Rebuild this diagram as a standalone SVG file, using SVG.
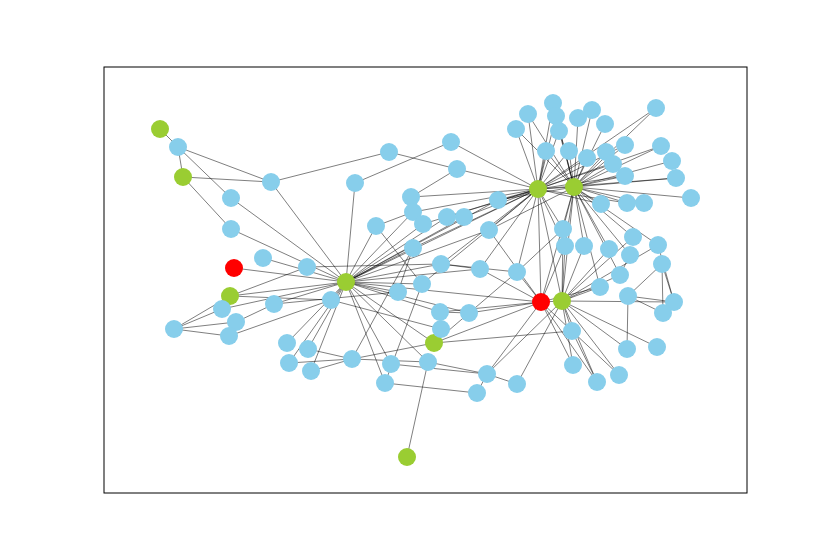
<svg xmlns="http://www.w3.org/2000/svg" width="830" height="554" viewBox="0 0 830 554">
<style>
.e line{stroke:#000;stroke-opacity:0.5;stroke-width:1}
.b{fill:#87CEEB}.g{fill:#9ACD32}.r{fill:#FF0000}
</style>
<rect x="0" y="0" width="830" height="554" fill="#fff"/>
<rect x="104" y="67" width="643" height="426" fill="none" stroke="#000" stroke-width="1"/>
<g id="edges" class="e">
<line x1="160" y1="129" x2="178" y2="147"/>
<line x1="178" y1="147" x2="183" y2="177"/>
<line x1="178" y1="147" x2="271" y2="182"/>
<line x1="178" y1="147" x2="231" y2="198"/>
<line x1="231" y1="198" x2="346" y2="282"/>
<line x1="183" y1="177" x2="271" y2="182"/>
<line x1="183" y1="177" x2="231" y2="229"/>
<line x1="231" y1="229" x2="346" y2="282"/>
<line x1="271" y1="182" x2="389" y2="152"/>
<line x1="271" y1="182" x2="346" y2="282"/>
<line x1="355" y1="183" x2="346" y2="282"/>
<line x1="389" y1="152" x2="457" y2="169"/>
<line x1="451" y1="142" x2="355" y2="183"/>
<line x1="451" y1="142" x2="538" y2="189"/>
<line x1="457" y1="169" x2="538" y2="189"/>
<line x1="457" y1="169" x2="411" y2="197"/>
<line x1="411" y1="197" x2="538" y2="189"/>
<line x1="376" y1="226" x2="346" y2="282"/>
<line x1="376" y1="226" x2="413" y2="212"/>
<line x1="376" y1="226" x2="422" y2="284"/>
<line x1="234" y1="268" x2="346" y2="282"/>
<line x1="263" y1="258" x2="346" y2="282"/>
<line x1="307" y1="267" x2="441" y2="264"/>
<line x1="230" y1="296" x2="307" y2="267"/>
<line x1="230" y1="296" x2="346" y2="282"/>
<line x1="230" y1="296" x2="331" y2="300"/>
<line x1="230" y1="296" x2="174" y2="329"/>
<line x1="174" y1="329" x2="222" y2="309"/>
<line x1="174" y1="329" x2="236" y2="322"/>
<line x1="174" y1="329" x2="229" y2="336"/>
<line x1="222" y1="309" x2="346" y2="282"/>
<line x1="236" y1="322" x2="274" y2="304"/>
<line x1="274" y1="304" x2="346" y2="282"/>
<line x1="229" y1="336" x2="331" y2="300"/>
<line x1="274" y1="304" x2="398" y2="292"/>
<line x1="331" y1="300" x2="346" y2="282"/>
<line x1="287" y1="343" x2="346" y2="282"/>
<line x1="308" y1="349" x2="346" y2="282"/>
<line x1="289" y1="363" x2="346" y2="282"/>
<line x1="311" y1="371" x2="346" y2="282"/>
<line x1="308" y1="349" x2="352" y2="359"/>
<line x1="289" y1="363" x2="352" y2="359"/>
<line x1="311" y1="371" x2="352" y2="359"/>
<line x1="352" y1="359" x2="434" y2="343"/>
<line x1="352" y1="359" x2="413" y2="248"/>
<line x1="352" y1="359" x2="428" y2="362"/>
<line x1="391" y1="364" x2="487" y2="374"/>
<line x1="428" y1="362" x2="487" y2="374"/>
<line x1="385" y1="383" x2="477" y2="393"/>
<line x1="428" y1="362" x2="407" y2="457"/>
<line x1="487" y1="374" x2="477" y2="393"/>
<line x1="517" y1="384" x2="562" y2="301"/>
<line x1="487" y1="374" x2="541" y2="302"/>
<line x1="487" y1="374" x2="562" y2="301"/>
<line x1="434" y1="343" x2="572" y2="331"/>
<line x1="434" y1="343" x2="541" y2="302"/>
<line x1="434" y1="343" x2="441" y2="329"/>
<line x1="346" y1="282" x2="434" y2="343"/>
<line x1="346" y1="282" x2="385" y2="383"/>
<line x1="346" y1="282" x2="391" y2="364"/>
<line x1="346" y1="282" x2="428" y2="362"/>
<line x1="346" y1="282" x2="440" y2="312"/>
<line x1="346" y1="282" x2="469" y2="313"/>
<line x1="346" y1="282" x2="541" y2="302"/>
<line x1="346" y1="282" x2="398" y2="292"/>
<line x1="346" y1="282" x2="422" y2="284"/>
<line x1="346" y1="282" x2="441" y2="264"/>
<line x1="346" y1="282" x2="413" y2="248"/>
<line x1="346" y1="282" x2="413" y2="212"/>
<line x1="346" y1="282" x2="423" y2="224"/>
<line x1="346" y1="282" x2="447" y2="217"/>
<line x1="346" y1="282" x2="464" y2="217"/>
<line x1="346" y1="282" x2="498" y2="200"/>
<line x1="346" y1="282" x2="538" y2="189"/>
<line x1="346" y1="282" x2="489" y2="230"/>
<line x1="346" y1="282" x2="480" y2="269"/>
<line x1="413" y1="248" x2="398" y2="292"/>
<line x1="385" y1="383" x2="422" y2="284"/>
<line x1="440" y1="312" x2="469" y2="313"/>
<line x1="469" y1="313" x2="541" y2="302"/>
<line x1="440" y1="312" x2="541" y2="302"/>
<line x1="480" y1="269" x2="541" y2="302"/>
<line x1="517" y1="272" x2="541" y2="302"/>
<line x1="441" y1="264" x2="517" y2="272"/>
<line x1="441" y1="264" x2="480" y2="269"/>
<line x1="434" y1="343" x2="517" y2="272"/>
<line x1="331" y1="300" x2="441" y2="329"/>
<line x1="517" y1="384" x2="487" y2="374"/>
<line x1="489" y1="230" x2="541" y2="302"/>
<line x1="517" y1="272" x2="563" y2="229"/>
<line x1="538" y1="189" x2="413" y2="212"/>
<line x1="538" y1="189" x2="423" y2="224"/>
<line x1="538" y1="189" x2="447" y2="217"/>
<line x1="538" y1="189" x2="464" y2="217"/>
<line x1="538" y1="189" x2="498" y2="200"/>
<line x1="538" y1="189" x2="489" y2="230"/>
<line x1="538" y1="189" x2="413" y2="248"/>
<line x1="538" y1="189" x2="441" y2="264"/>
<line x1="538" y1="189" x2="516" y2="129"/>
<line x1="538" y1="189" x2="528" y2="114"/>
<line x1="538" y1="189" x2="556" y2="116"/>
<line x1="538" y1="189" x2="559" y2="131"/>
<line x1="538" y1="189" x2="546" y2="151"/>
<line x1="538" y1="189" x2="569" y2="151"/>
<line x1="538" y1="189" x2="574" y2="187"/>
<line x1="538" y1="189" x2="656" y2="108"/>
<line x1="538" y1="189" x2="601" y2="204"/>
<line x1="538" y1="189" x2="563" y2="229"/>
<line x1="538" y1="189" x2="565" y2="246"/>
<line x1="538" y1="189" x2="541" y2="302"/>
<line x1="538" y1="189" x2="562" y2="301"/>
<line x1="538" y1="189" x2="587" y2="158"/>
<line x1="538" y1="189" x2="613" y2="164"/>
<line x1="538" y1="189" x2="625" y2="145"/>
<line x1="538" y1="189" x2="625" y2="176"/>
<line x1="538" y1="189" x2="661" y2="146"/>
<line x1="538" y1="189" x2="676" y2="178"/>
<line x1="538" y1="189" x2="627" y2="203"/>
<line x1="538" y1="189" x2="480" y2="269"/>
<line x1="538" y1="189" x2="422" y2="284"/>
<line x1="538" y1="189" x2="517" y2="272"/>
<line x1="538" y1="189" x2="553" y2="103"/>
<line x1="574" y1="187" x2="553" y2="103"/>
<line x1="574" y1="187" x2="556" y2="116"/>
<line x1="574" y1="187" x2="559" y2="131"/>
<line x1="574" y1="187" x2="578" y2="118"/>
<line x1="574" y1="187" x2="592" y2="110"/>
<line x1="574" y1="187" x2="605" y2="124"/>
<line x1="574" y1="187" x2="546" y2="151"/>
<line x1="574" y1="187" x2="569" y2="151"/>
<line x1="574" y1="187" x2="587" y2="158"/>
<line x1="574" y1="187" x2="606" y2="152"/>
<line x1="574" y1="187" x2="613" y2="164"/>
<line x1="574" y1="187" x2="625" y2="145"/>
<line x1="574" y1="187" x2="625" y2="176"/>
<line x1="574" y1="187" x2="656" y2="108"/>
<line x1="574" y1="187" x2="661" y2="146"/>
<line x1="574" y1="187" x2="672" y2="161"/>
<line x1="574" y1="187" x2="676" y2="178"/>
<line x1="574" y1="187" x2="691" y2="198"/>
<line x1="574" y1="187" x2="601" y2="204"/>
<line x1="574" y1="187" x2="627" y2="203"/>
<line x1="574" y1="187" x2="644" y2="203"/>
<line x1="574" y1="187" x2="563" y2="229"/>
<line x1="574" y1="187" x2="565" y2="246"/>
<line x1="574" y1="187" x2="584" y2="246"/>
<line x1="574" y1="187" x2="609" y2="249"/>
<line x1="574" y1="187" x2="633" y2="237"/>
<line x1="574" y1="187" x2="658" y2="245"/>
<line x1="574" y1="187" x2="630" y2="255"/>
<line x1="574" y1="187" x2="620" y2="275"/>
<line x1="574" y1="187" x2="600" y2="287"/>
<line x1="574" y1="187" x2="562" y2="301"/>
<line x1="574" y1="187" x2="541" y2="302"/>
<line x1="574" y1="187" x2="516" y2="129"/>
<line x1="574" y1="187" x2="528" y2="114"/>
<line x1="574" y1="187" x2="498" y2="200"/>
<line x1="574" y1="187" x2="489" y2="230"/>
<line x1="562" y1="301" x2="563" y2="229"/>
<line x1="562" y1="301" x2="565" y2="246"/>
<line x1="562" y1="301" x2="572" y2="331"/>
<line x1="562" y1="301" x2="573" y2="365"/>
<line x1="562" y1="301" x2="597" y2="382"/>
<line x1="562" y1="301" x2="619" y2="375"/>
<line x1="562" y1="301" x2="627" y2="349"/>
<line x1="562" y1="301" x2="657" y2="347"/>
<line x1="562" y1="301" x2="674" y2="302"/>
<line x1="562" y1="301" x2="600" y2="287"/>
<line x1="562" y1="301" x2="609" y2="249"/>
<line x1="562" y1="301" x2="633" y2="237"/>
<line x1="562" y1="301" x2="658" y2="245"/>
<line x1="562" y1="301" x2="620" y2="275"/>
<line x1="562" y1="301" x2="584" y2="246"/>
<line x1="541" y1="302" x2="573" y2="365"/>
<line x1="541" y1="302" x2="572" y2="331"/>
<line x1="541" y1="302" x2="597" y2="382"/>
<line x1="541" y1="302" x2="565" y2="246"/>
<line x1="541" y1="302" x2="600" y2="287"/>
<line x1="541" y1="302" x2="562" y2="301"/>
<line x1="572" y1="331" x2="619" y2="375"/>
<line x1="572" y1="331" x2="597" y2="382"/>
<line x1="662" y1="264" x2="674" y2="302"/>
<line x1="662" y1="264" x2="663" y2="313"/>
<line x1="628" y1="296" x2="674" y2="302"/>
<line x1="628" y1="296" x2="663" y2="313"/>
<line x1="628" y1="296" x2="627" y2="349"/>
<line x1="628" y1="296" x2="662" y2="264"/>
<line x1="658" y1="245" x2="674" y2="302"/>
<line x1="630" y1="255" x2="620" y2="275"/>
</g>
<g id="nodes">
<g id="G1"><circle class="g" cx="160" cy="129" r="9"/></g>
<g id="G2"><circle class="g" cx="183" cy="177" r="9"/></g>
<g id="G3"><circle class="g" cx="230" cy="296" r="9"/></g>
<g id="G4"><circle class="g" cx="346" cy="282" r="9"/></g>
<g id="G5"><circle class="g" cx="538" cy="189" r="9"/></g>
<g id="G6"><circle class="g" cx="574" cy="187" r="9"/></g>
<g id="G7"><circle class="g" cx="562" cy="301" r="9"/></g>
<g id="G8"><circle class="g" cx="434" cy="343" r="9"/></g>
<g id="G9"><circle class="g" cx="407" cy="457" r="9"/></g>
<g id="R1"><circle class="r" cx="234" cy="268" r="9"/></g>
<g id="R2"><circle class="r" cx="541" cy="302" r="9"/></g>
<g id="B1"><circle class="b" cx="178" cy="147" r="9"/></g>
<g id="B2"><circle class="b" cx="271" cy="182" r="9"/></g>
<g id="B3"><circle class="b" cx="231" cy="198" r="9"/></g>
<g id="B4"><circle class="b" cx="231" cy="229" r="9"/></g>
<g id="B5"><circle class="b" cx="263" cy="258" r="9"/></g>
<g id="B6"><circle class="b" cx="307" cy="267" r="9"/></g>
<g id="B7"><circle class="b" cx="222" cy="309" r="9"/></g>
<g id="B8"><circle class="b" cx="236" cy="322" r="9"/></g>
<g id="B9"><circle class="b" cx="229" cy="336" r="9"/></g>
<g id="B10"><circle class="b" cx="174" cy="329" r="9"/></g>
<g id="B11"><circle class="b" cx="274" cy="304" r="9"/></g>
<g id="B12"><circle class="b" cx="331" cy="300" r="9"/></g>
<g id="B13"><circle class="b" cx="287" cy="343" r="9"/></g>
<g id="B14"><circle class="b" cx="308" cy="349" r="9"/></g>
<g id="B15"><circle class="b" cx="289" cy="363" r="9"/></g>
<g id="B16"><circle class="b" cx="311" cy="371" r="9"/></g>
<g id="B17"><circle class="b" cx="352" cy="359" r="9"/></g>
<g id="B18"><circle class="b" cx="389" cy="152" r="9"/></g>
<g id="B19"><circle class="b" cx="355" cy="183" r="9"/></g>
<g id="B20"><circle class="b" cx="451" cy="142" r="9"/></g>
<g id="B21"><circle class="b" cx="457" cy="169" r="9"/></g>
<g id="B22"><circle class="b" cx="411" cy="197" r="9"/></g>
<g id="B23"><circle class="b" cx="413" cy="212" r="9"/></g>
<g id="B24"><circle class="b" cx="376" cy="226" r="9"/></g>
<g id="B25"><circle class="b" cx="423" cy="224" r="9"/></g>
<g id="B26"><circle class="b" cx="447" cy="217" r="9"/></g>
<g id="B27"><circle class="b" cx="464" cy="217" r="9"/></g>
<g id="B28"><circle class="b" cx="498" cy="200" r="9"/></g>
<g id="B29"><circle class="b" cx="489" cy="230" r="9"/></g>
<g id="B30"><circle class="b" cx="413" cy="248" r="9"/></g>
<g id="B31"><circle class="b" cx="398" cy="292" r="9"/></g>
<g id="B32"><circle class="b" cx="422" cy="284" r="9"/></g>
<g id="B33"><circle class="b" cx="441" cy="264" r="9"/></g>
<g id="B34"><circle class="b" cx="480" cy="269" r="9"/></g>
<g id="B35"><circle class="b" cx="517" cy="272" r="9"/></g>
<g id="B36"><circle class="b" cx="440" cy="312" r="9"/></g>
<g id="B37"><circle class="b" cx="469" cy="313" r="9"/></g>
<g id="B38"><circle class="b" cx="441" cy="329" r="9"/></g>
<g id="B39"><circle class="b" cx="391" cy="364" r="9"/></g>
<g id="B40"><circle class="b" cx="428" cy="362" r="9"/></g>
<g id="B41"><circle class="b" cx="385" cy="383" r="9"/></g>
<g id="B42"><circle class="b" cx="487" cy="374" r="9"/></g>
<g id="B43"><circle class="b" cx="517" cy="384" r="9"/></g>
<g id="B44"><circle class="b" cx="477" cy="393" r="9"/></g>
<g id="B45"><circle class="b" cx="516" cy="129" r="9"/></g>
<g id="B46"><circle class="b" cx="528" cy="114" r="9"/></g>
<g id="B47"><circle class="b" cx="553" cy="103" r="9"/></g>
<g id="B48"><circle class="b" cx="556" cy="116" r="9"/></g>
<g id="B49"><circle class="b" cx="559" cy="131" r="9"/></g>
<g id="B50"><circle class="b" cx="578" cy="118" r="9"/></g>
<g id="B51"><circle class="b" cx="592" cy="110" r="9"/></g>
<g id="B52"><circle class="b" cx="605" cy="124" r="9"/></g>
<g id="B53"><circle class="b" cx="546" cy="151" r="9"/></g>
<g id="B54"><circle class="b" cx="569" cy="151" r="9"/></g>
<g id="B55"><circle class="b" cx="587" cy="158" r="9"/></g>
<g id="B56"><circle class="b" cx="606" cy="152" r="9"/></g>
<g id="B57"><circle class="b" cx="613" cy="164" r="9"/></g>
<g id="B58"><circle class="b" cx="625" cy="145" r="9"/></g>
<g id="B59"><circle class="b" cx="625" cy="176" r="9"/></g>
<g id="B60"><circle class="b" cx="656" cy="108" r="9"/></g>
<g id="B61"><circle class="b" cx="661" cy="146" r="9"/></g>
<g id="B62"><circle class="b" cx="672" cy="161" r="9"/></g>
<g id="B63"><circle class="b" cx="676" cy="178" r="9"/></g>
<g id="B64"><circle class="b" cx="691" cy="198" r="9"/></g>
<g id="B65"><circle class="b" cx="601" cy="204" r="9"/></g>
<g id="B66"><circle class="b" cx="627" cy="203" r="9"/></g>
<g id="B67"><circle class="b" cx="644" cy="203" r="9"/></g>
<g id="B68"><circle class="b" cx="563" cy="229" r="9"/></g>
<g id="B69"><circle class="b" cx="565" cy="246" r="9"/></g>
<g id="B70"><circle class="b" cx="584" cy="246" r="9"/></g>
<g id="B71"><circle class="b" cx="609" cy="249" r="9"/></g>
<g id="B72"><circle class="b" cx="633" cy="237" r="9"/></g>
<g id="B73"><circle class="b" cx="658" cy="245" r="9"/></g>
<g id="B74"><circle class="b" cx="630" cy="255" r="9"/></g>
<g id="B75"><circle class="b" cx="662" cy="264" r="9"/></g>
<g id="B76"><circle class="b" cx="620" cy="275" r="9"/></g>
<g id="B77"><circle class="b" cx="600" cy="287" r="9"/></g>
<g id="B78"><circle class="b" cx="628" cy="296" r="9"/></g>
<g id="B79"><circle class="b" cx="674" cy="302" r="9"/></g>
<g id="B80"><circle class="b" cx="663" cy="313" r="9"/></g>
<g id="B81"><circle class="b" cx="572" cy="331" r="9"/></g>
<g id="B82"><circle class="b" cx="627" cy="349" r="9"/></g>
<g id="B83"><circle class="b" cx="657" cy="347" r="9"/></g>
<g id="B84"><circle class="b" cx="573" cy="365" r="9"/></g>
<g id="B85"><circle class="b" cx="619" cy="375" r="9"/></g>
<g id="B86"><circle class="b" cx="597" cy="382" r="9"/></g>
</g>
</svg>
